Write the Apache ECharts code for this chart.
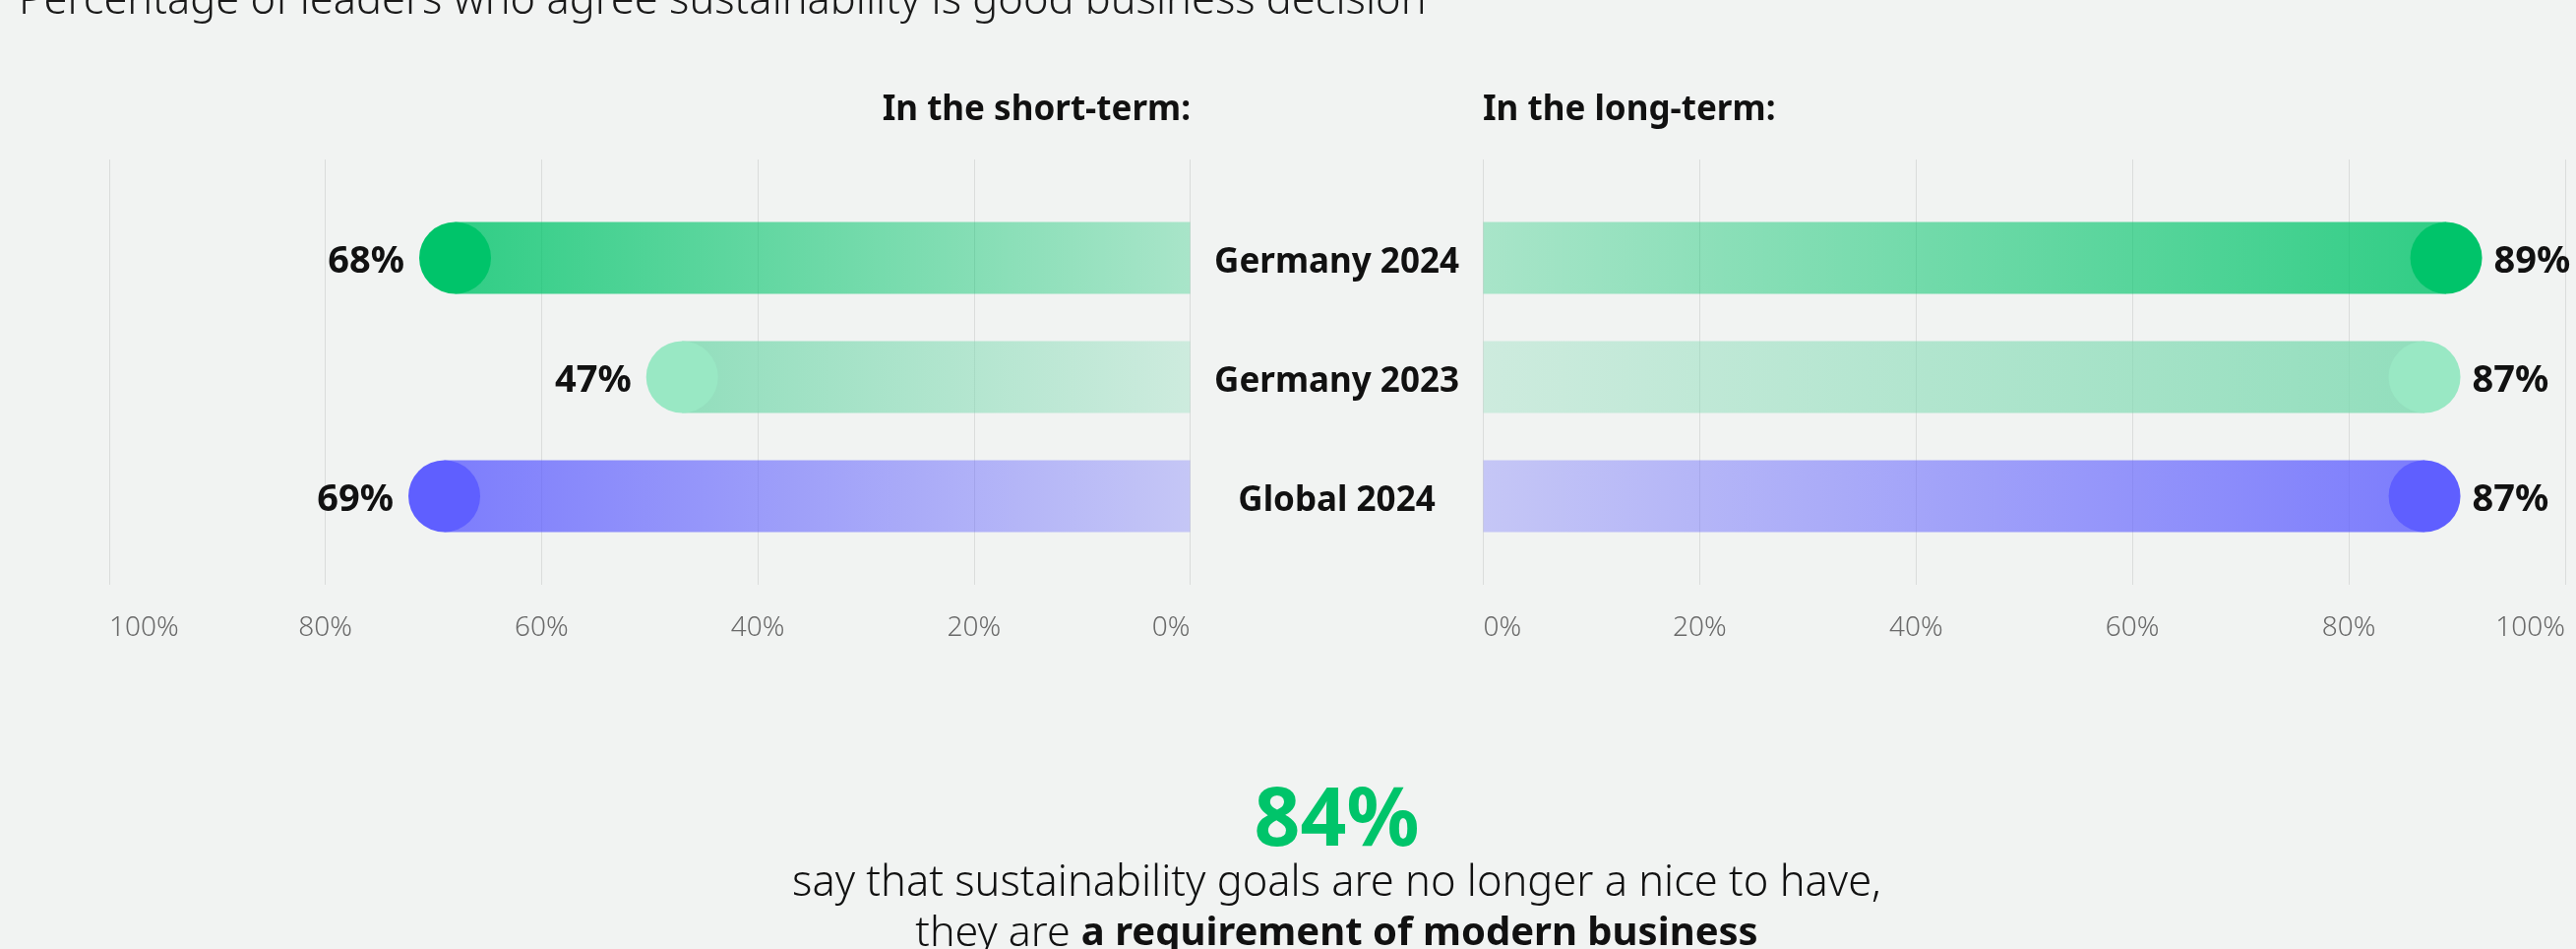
<!DOCTYPE html>
<html>
<head>
<meta charset="utf-8">
<script src="https://cdn.jsdelivr.net/npm/echarts@6/dist/echarts.min.js"></script>
<style>
  html, body { margin: 0; padding: 0; background: #F1F3F2; }
  #chart { width: 2618px; height: 964px; }
</style>
</head>
<body>
<div id="chart"></div>
<script>
// ---- data ----
const categories = ['Germany 2024', 'Germany 2023', 'Global 2024'];
const shortTerm = [68, 47, 69];
const longTerm = [89, 87, 87];
const headlineValue = 84;
const titleText = 'Percentage of leaders who agree sustainability is good business decision';
const shortHeader = 'In the short-term:';
const longHeader = 'In the long-term:';
const noteLine1 = 'say that sustainability goals are no longer a nice to have,';
const noteLine2Plain = 'they are ';
const noteLine2Bold = 'a requirement of modern business';

// ---- styles ----
const FONT = '"Noto Sans", "Open Sans", sans-serif';
const barBase = ['#00C46A', '#7AD9AF', '#5F5FFF'];
const dotColor = ['#00C46A', '#99E8C4', '#5F5FFF'];

function rgba(hex, a) {
  const n = parseInt(hex.slice(1), 16);
  return 'rgba(' + ((n >> 16) & 255) + ',' + ((n >> 8) & 255) + ',' + (n & 255) + ',' + a + ')';
}
function grad(hex, endOnLeft) {
  const strong = rgba(hex, 0.8), weak = rgba(hex, 0.3);
  return new echarts.graphic.LinearGradient(0, 0, 1, 0, [
    { offset: 0, color: endOnLeft ? strong : weak },
    { offset: 1, color: endOnLeft ? weak : strong }
  ]);
}

const L_LEFT = 111, L_W = 1098.5;
const R_LEFT = 1507.5, R_W = 1099.5;
const BAR_TOP = 201.5, BAR_H = 363;
const GL_TOP = 162, GL_H = 432;
const BAR_SIZE = 73;
const CENTER_X = 1358.5;

const axisLabelStyle = {
  fontFamily: FONT, fontSize: 28, fontWeight: 300, color: '#6A6A6A', margin: 30,
  formatter: '{value}%'
};

const chart = echarts.init(document.getElementById('chart'), null, { renderer: 'canvas' });

const option = {
  backgroundColor: '#F1F3F2',
  animation: false,
  grid: [
    { left: L_LEFT, width: L_W, top: BAR_TOP, height: BAR_H },
    { left: R_LEFT, width: R_W, top: BAR_TOP, height: BAR_H },
    { left: L_LEFT, width: L_W, top: GL_TOP, height: GL_H },
    { left: R_LEFT, width: R_W, top: GL_TOP, height: GL_H }
  ],
  xAxis: [
    { gridIndex: 0, type: 'value', min: 0, max: 100, interval: 20, inverse: true, show: false },
    { gridIndex: 1, type: 'value', min: 0, max: 100, interval: 20, show: false },
    { gridIndex: 2, type: 'value', min: 0, max: 100, interval: 20, inverse: true,
      axisLine: { show: false }, axisTick: { show: false },
      splitLine: { show: true, lineStyle: { color: '#DADCDB', width: 1 } },
      axisLabel: Object.assign({}, axisLabelStyle, { alignMinLabel: 'right', alignMaxLabel: 'left' }) },
    { gridIndex: 3, type: 'value', min: 0, max: 100, interval: 20,
      axisLine: { show: false }, axisTick: { show: false },
      splitLine: { show: true, lineStyle: { color: '#DADCDB', width: 1 } },
      axisLabel: Object.assign({}, axisLabelStyle, { alignMinLabel: 'left', alignMaxLabel: 'right' }) }
  ],
  yAxis: [
    { gridIndex: 0, type: 'category', data: categories, inverse: true, show: false },
    { gridIndex: 1, type: 'category', data: categories, inverse: true,
      axisLine: { show: false }, axisTick: { show: false }, splitLine: { show: false },
      axisLabel: { show: true, margin: R_LEFT - CENTER_X, align: 'center',
        formatter: v => '{c|' + v + '}',
        rich: { c: { fontFamily: FONT, fontSize: 35, fontWeight: 'bold', color: '#111111', padding: [10, 0, 0, 0] } } } },
    { gridIndex: 2, type: 'value', min: 0, max: 1, show: false },
    { gridIndex: 3, type: 'value', min: 0, max: 1, show: false }
  ],
  series: [
    {
      type: 'bar', xAxisIndex: 0, yAxisIndex: 0, barWidth: BAR_SIZE, z: 3,
      data: shortTerm.map((v, i) => ({ value: v, itemStyle: { color: grad(barBase[i], true) } }))
    },
    {
      type: 'scatter', xAxisIndex: 0, yAxisIndex: 0, symbol: 'circle', symbolSize: BAR_SIZE, z: 4,
      data: shortTerm.map((v, i) => ({ value: [v, categories[i]], itemStyle: { color: dotColor[i], opacity: 1 } })),
      label: { show: true, position: 'left', distance: 15, offset: [0, 4], formatter: p => p.value[0] + '%',
        fontFamily: FONT, fontSize: 38, fontWeight: 'bold', color: '#111111' }
    },
    {
      type: 'bar', xAxisIndex: 1, yAxisIndex: 1, barWidth: BAR_SIZE, z: 3,
      data: longTerm.map((v, i) => ({ value: v, itemStyle: { color: grad(barBase[i], false) } }))
    },
    {
      type: 'scatter', xAxisIndex: 1, yAxisIndex: 1, symbol: 'circle', symbolSize: BAR_SIZE, z: 4,
      data: longTerm.map((v, i) => ({ value: [v, categories[i]], itemStyle: { color: dotColor[i], opacity: 1 } })),
      label: { show: true, position: 'right', distance: 12, offset: [0, 4], formatter: p => p.value[0] + '%',
        fontFamily: FONT, fontSize: 38, fontWeight: 'bold', color: '#111111' }
    }
  ],
  graphic: [
    { type: 'text', style: { x: 19, y: 2, text: titleText, align: 'left', verticalAlign: 'middle',
        fontFamily: FONT, fontSize: 43.4, fontWeight: 300, fill: '#1A1A1A' } },
    { type: 'text', style: { x: 1210, y: 112, text: shortHeader, align: 'right', verticalAlign: 'middle',
        fontFamily: FONT, fontSize: 35, fontWeight: 'bold', fill: '#111111' } },
    { type: 'text', style: { x: 1507, y: 112, text: longHeader, align: 'left', verticalAlign: 'middle',
        fontFamily: FONT, fontSize: 35, fontWeight: 'bold', fill: '#111111' } },
    { type: 'text', style: { x: CENTER_X, y: 836, text: headlineValue + '%', align: 'center', verticalAlign: 'middle',
        fontFamily: FONT, fontSize: 82, fontWeight: 'bold', fill: '#00C46A' } },
    { type: 'text', style: { x: CENTER_X, y: 898, text: noteLine1, align: 'center', verticalAlign: 'middle',
        fontFamily: FONT, fontSize: 43.4, fontWeight: 300, fill: '#111111' } },
    { type: 'text', style: { x: CENTER_X, y: 949, text: '{n|' + noteLine2Plain + '}{b|' + noteLine2Bold + '}',
        align: 'center', verticalAlign: 'middle',
        rich: {
          n: { fontFamily: FONT, fontSize: 43, fontWeight: 300, fill: '#111111', color: '#111111' },
          b: { fontFamily: FONT, fontSize: 40, fontWeight: 'bold', fill: '#111111', color: '#111111' }
        } } }
  ]
};
chart.setOption(option);
</script>
</body>
</html>
